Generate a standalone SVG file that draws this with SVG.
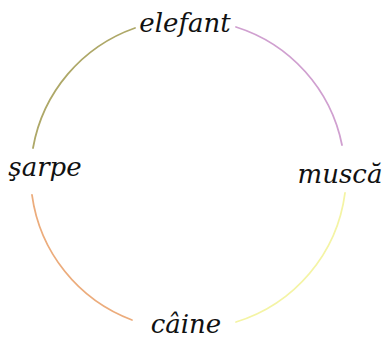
<svg xmlns="http://www.w3.org/2000/svg" width="385" height="343" viewBox="0 0 385 343">
<style>
.arc{fill:none;stroke-width:1.8;stroke-linecap:round}
.lbl{font-family:"DejaVu Serif","Liberation Serif",serif;font-style:italic;font-size:26px;fill:#111}
</style>
<rect width="385" height="343" fill="#fff"/>
<g id="connectors">
<path class="arc" d="M33,148 A156,156 0 0 1 135,28" stroke="#aea868"/>
<path class="arc" d="M236,27 A156,156 0 0 1 342,145" stroke="#d0a0d0"/>
<path class="arc" d="M345,193 A156,156 0 0 1 236,322" stroke="#f4f4a4"/>
<path class="arc" d="M132,320 A156,156 0 0 1 32,195" stroke="#ecac7c"/>
</g>
<g id="elefant"><text class="lbl" x="185" y="32" text-anchor="middle">elefant</text></g>
<g id="musca"><text class="lbl" x="340" y="183" text-anchor="middle">muscă</text></g>
<g id="caine"><text class="lbl" x="186" y="333" text-anchor="middle">câine</text></g>
<g id="sarpe"><text class="lbl" x="45" y="176" text-anchor="middle">şarpe</text></g>
</svg>
